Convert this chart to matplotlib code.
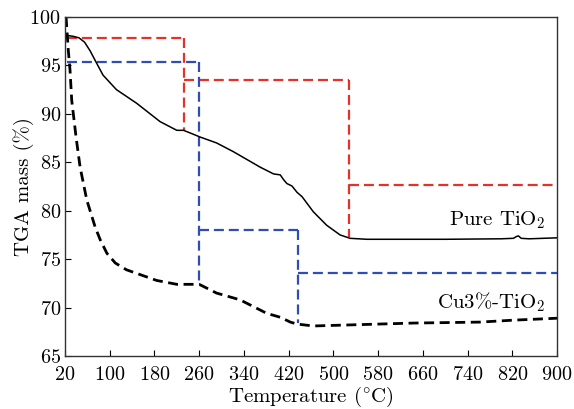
import matplotlib
matplotlib.use("Agg")
import matplotlib.pyplot as plt
import numpy as np

plt.rcParams['font.family'] = 'serif'
plt.rcParams['font.serif'] = ['cmr10']
plt.rcParams['mathtext.fontset'] = 'cm'
plt.rcParams['axes.formatter.use_mathtext'] = True

# Pure TiO2 (solid black)
pure_T = [24, 35, 45, 55, 65, 75, 88, 112, 148, 190, 220, 232, 245, 262, 291, 321, 345, 369, 393, 405, 411, 417, 426, 435, 444, 464, 488, 512, 530, 560, 600, 700, 800, 822, 828, 831, 836, 850, 900]
pure_v = [98.1, 98.0, 97.85, 97.4, 96.5, 95.4, 94.0, 92.5, 91.1, 89.2, 88.3, 88.3, 88.0, 87.6, 87.0, 86.1, 85.3, 84.5, 83.8, 83.7, 83.2, 82.8, 82.55, 81.9, 81.45, 79.9, 78.5, 77.5, 77.15, 77.05, 77.05, 77.05, 77.1, 77.15, 77.35, 77.4, 77.15, 77.1, 77.2]

# Cu3%-TiO2 (dashed black)
cu_T = [22, 23, 26, 29, 32, 40, 47, 59, 74, 83, 95, 110, 130, 184, 220, 260, 291, 333, 381, 405, 423, 435, 464, 524, 643, 762, 822, 900]
cu_v = [100.0, 99.0, 96.5, 94.5, 91.4, 87.5, 84.5, 81.1, 78.3, 77.0, 75.6, 74.6, 73.9, 72.8, 72.4, 72.4, 71.5, 70.8, 69.4, 69.0, 68.5, 68.3, 68.1, 68.2, 68.4, 68.5, 68.7, 68.9]

# Red stage markers (Pure TiO2)
red_segments = [
    ([24, 232], [97.8, 97.8]),
    ([232, 232], [97.8, 88.3]),
    ([232, 528], [93.5, 93.5]),
    ([528, 528], [93.5, 77.3]),
    ([528, 900], [82.7, 82.7]),
]
# Blue stage markers (Cu3%-TiO2)
blue_segments = [
    ([24, 260], [95.4, 95.4]),
    ([260, 260], [95.4, 72.4]),
    ([260, 437], [78.0, 78.0]),
    ([437, 437], [78.0, 68.4]),
    ([437, 900], [73.6, 73.6]),
]

xticks = [20, 100, 180, 260, 340, 420, 500, 580, 660, 740, 820, 900]
yticks = [65, 70, 75, 80, 85, 90, 95, 100]

fig = plt.figure(figsize=(5.74, 4.09), dpi=100)
ax = fig.add_axes([65/574, 1-356/409, (557-65)/574, (356-17)/409])

red = '#e4322b'
blue = '#2f4db3'
for xs, ys in red_segments:
    ax.plot(xs, ys, color=red, lw=1.6, dashes=(4.5, 2.2))
for xs, ys in blue_segments:
    ax.plot(xs, ys, color=blue, lw=1.6, dashes=(4.5, 2.2))

ax.plot(pure_T, pure_v, color='black', lw=1.1)
ax.plot(cu_T, cu_v, color='black', lw=2.0, dashes=(3.6, 2.0))

ax.set_xlim(20, 900)
ax.set_ylim(65, 100)
ax.set_xticks(xticks)
ax.set_yticks(yticks)
ax.tick_params(direction='in', labelsize=14.5, length=4, top=False, right=False)
ax.tick_params(axis='x', pad=7)
ax.tick_params(axis='y', pad=3)
for s in ax.spines.values():
    s.set_linewidth(1.0)
    s.set_color('#333333')

ax.set_xlabel(r'Temperature ($^{\circ}$C)', fontsize=15)
ax.set_ylabel(r'TGA mass (%)', fontsize=15)
ax.xaxis.set_label_coords(0.5, -0.086)
ax.yaxis.set_label_coords(-0.062, 0.5)

ax.text(879, 79.0, r'Pure TiO$_2$', fontsize=15, ha='right', va='center')
ax.text(879, 70.6, r'Cu3%-TiO$_2$', fontsize=15, ha='right', va='center')

fig.savefig('out.png', dpi=100)
